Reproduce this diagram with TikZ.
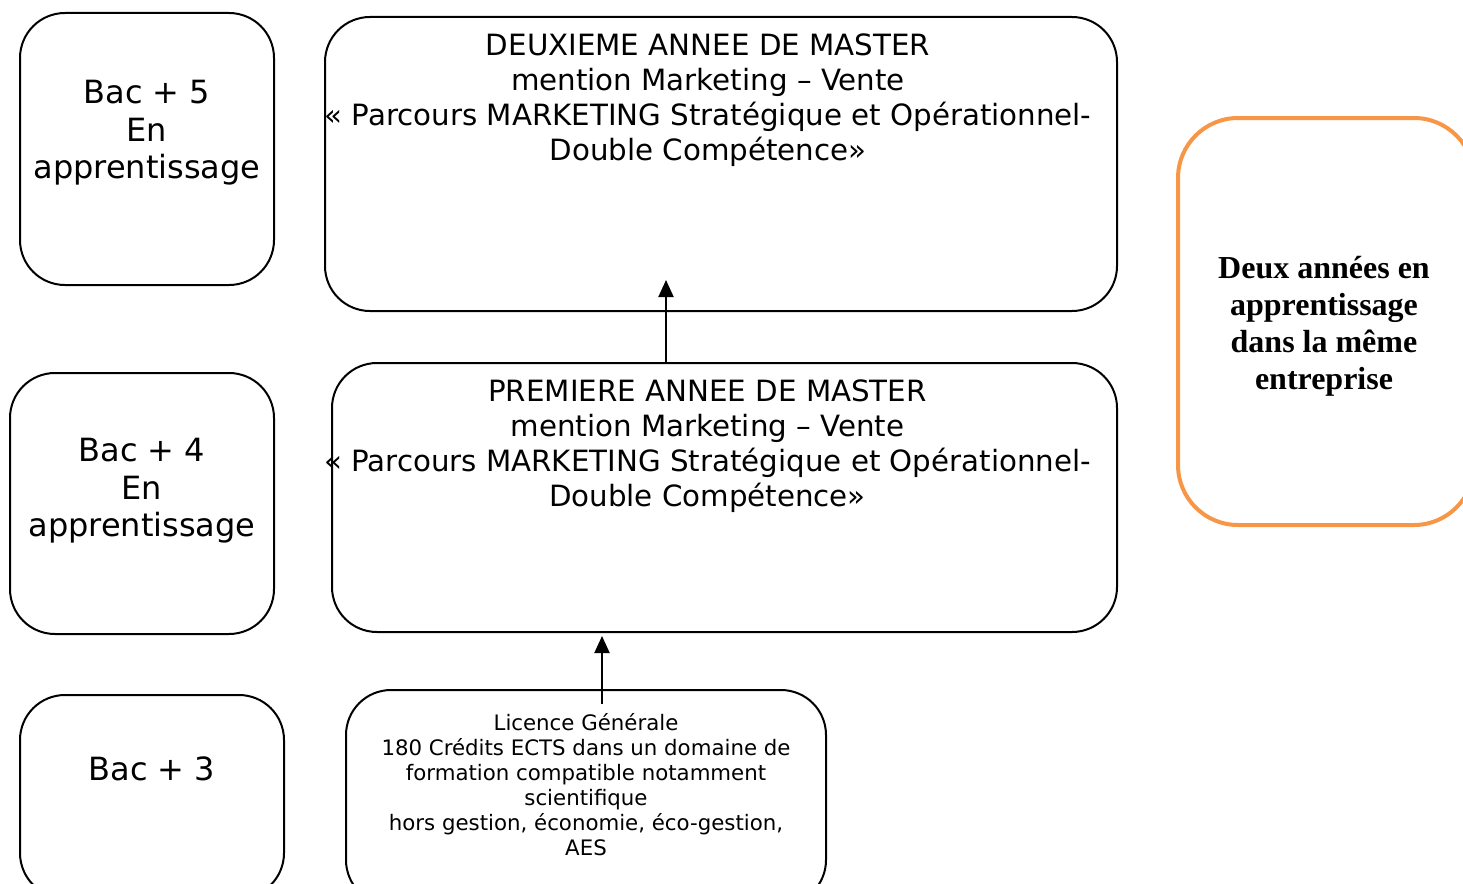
\documentclass[tikz,border=0pt]{standalone}
\usepackage{fontspec}
\setmainfont{DejaVu Sans}
\newfontfamily\boldserif{Liberation Serif}
\usetikzlibrary{positioning,arrows.meta}
\definecolor{apporange}{HTML}{F79646}

\tikzset{
  box/.style={draw, line width=2pt, rounded corners=45pt, inner sep=0pt},
  orangebox/.style={draw=apporange, line width=4pt, rounded corners=60pt},
  apptxt/.style={font=\boldserif\bfseries\fontsize{32}{37}\selectfont, align=center, inner sep=0pt},
  bactxt/.style={font=\fontsize{32}{37.5}\selectfont, align=center, inner sep=0pt},
  mastertxt/.style={font=\fontsize{29.3}{35}\selectfont, align=center, inner sep=0pt},
  smalltxt/.style={font=\fontsize{21.3}{25}\selectfont, align=center, inner sep=0pt},
  arr/.style={-{Triangle[width=15pt,length=17pt]}, line width=2pt},
}

\begin{document}
\begin{tikzpicture}[x=1pt,y=-1pt]
  \useasboundingbox (0,0) rectangle (1463,883);
  \clip (0,0) rectangle (1463,883);

  % boxes
  \node[box, minimum width=254pt, minimum height=272pt] (bac5) at (147,149) {};
  \node[box, minimum width=792pt, minimum height=294pt] (m2) at (721,164) {};
  \node[box, minimum width=264pt, minimum height=261pt] (bac4) at (142,503.5) {};
  \node[box, minimum width=785pt, minimum height=269pt] (m1) at (724.5,497.5) {};
  \node[box, minimum width=264pt, minimum height=203pt] (bac3) at (152,796.5) {};
  \node[box, minimum width=480pt, minimum height=215pt] (lic) at (586,797.5) {};
  \node[orangebox, minimum width=296pt, minimum height=407pt] (app) at (1326,321.5) {};

  % texts
  \node[apptxt, xshift=-2pt, yshift=-5pt] (apptext) at (app.center)
    {Deux années en\\apprentissage\\dans la même\\entreprise};
  \node[bactxt, below=68pt of bac5.north] (bac5txt) {Bac + 5\\En\\apprentissage};
  \node[bactxt, below=66pt of bac4.north] (bac4txt) {Bac + 4\\En\\apprentissage};
  \node[bactxt, below=63pt of bac3.north] (bac3txt) {Bac + 3};
  \node[mastertxt, below=18pt of m2.north, xshift=-13pt] (m2txt)
    {DEUXIEME ANNEE DE MASTER\\mention Marketing – Vente\\« Parcours MARKETING Stratégique et Opérationnel-\\Double Compétence»};
  \node[mastertxt, below=18pt of m1.north, xshift=-17pt] (m1txt)
    {PREMIERE ANNEE DE MASTER\\mention Marketing – Vente\\« Parcours MARKETING Stratégique et Opérationnel-\\Double Compétence»};
  \node[smalltxt, below=23pt of lic.north, yshift=-1pt] (lictxt)
    {Licence Générale\\180 Crédits ECTS dans un domaine de\\formation compatible notamment\\scientifique\\hors gestion, économie, éco-gestion,\\AES};

  % arrows
  \draw[arr] ([xshift=-58.5pt]m1.north) -- ([xshift=-55pt,yshift=32pt]m2.south);
  \draw[arr] ([xshift=16pt,yshift=-15pt]lic.north) -- ([xshift=-122.5pt,yshift=-3pt]m1.south);
\end{tikzpicture}
\end{document}
